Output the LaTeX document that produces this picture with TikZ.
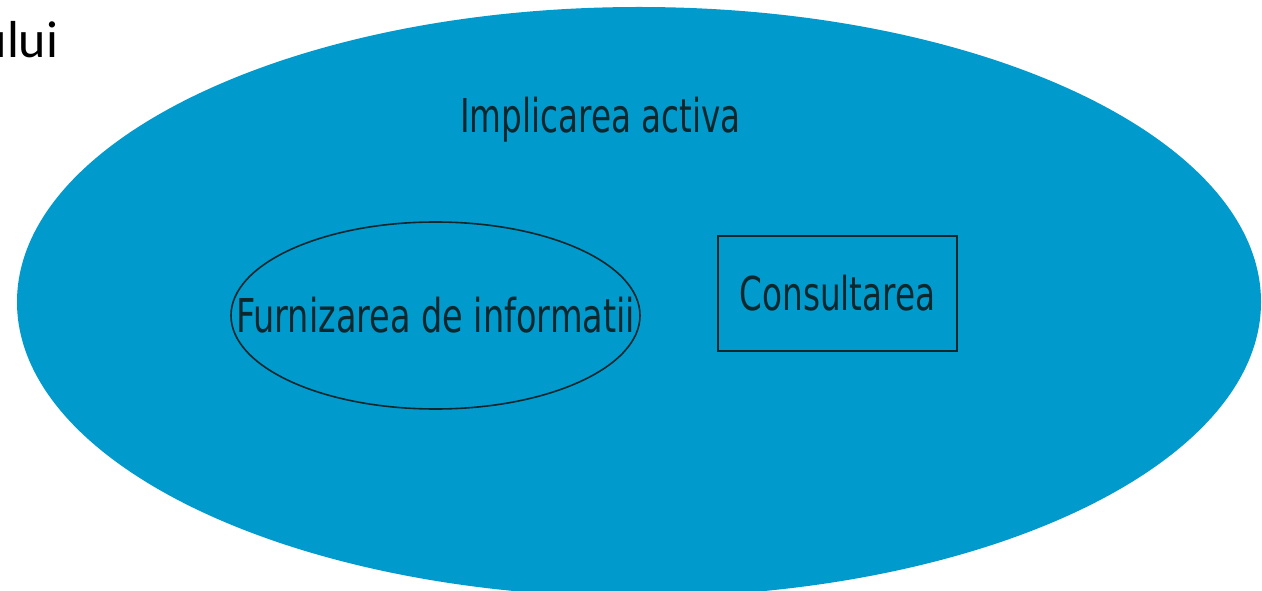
\documentclass[tikz,border=0pt]{standalone}
\usepackage{fontspec}
\setmainfont{DejaVu Sans}
\newfontfamily\titlefont{Carlito}
\usetikzlibrary{shapes.geometric}
\definecolor{bigblue}{RGB}{0,154,205}
\definecolor{inkdark}{RGB}{12,40,44}
\tikzset{
  lbl/.style={font=\fontsize{35}{42}\selectfont, text=inkdark, inner sep=0pt},
  outerell/.style={ellipse, fill=bigblue, draw=none, inner sep=0pt,
    minimum width=933pt, minimum height=442.5pt},
  innerell/.style={ellipse, draw=inkdark, line width=1.2pt, inner sep=0pt,
    minimum width=306.75pt, minimum height=140.25pt, font=\fontsize{35}{42}\selectfont, text=inkdark},
  rectbox/.style={rectangle, draw=inkdark, line width=1.2pt, inner sep=0pt,
    minimum width=179.25pt, minimum height=86.25pt, font=\fontsize{35}{42}\selectfont, text=inkdark},
}
\begin{document}
\begin{tikzpicture}[x=0.75pt,y=-0.75pt]
\useasboundingbox (0,0) rectangle (1262,591);
\clip (0,0) rectangle (1262,591);
\node[outerell] (outer) at (639,302) {};
\node[anchor=base east, inner sep=0pt, font=\titlefont\fontsize{39}{46}\selectfont, text=black] (title) at (58.5,58) {ului};
\node[lbl, anchor=base] (impl) at (600.5,133) {\scalebox{0.7}[1]{Implicarea activa}};
\node[innerell] (furn) at (435.5,315.5) {\makebox[0pt]{\scalebox{0.718}[1]{Furnizarea de informatii}}};
\node[rectbox] (cons) at (837.5,293.5) {\scalebox{0.7}[1]{Consultarea}};
\end{tikzpicture}
\end{document}
